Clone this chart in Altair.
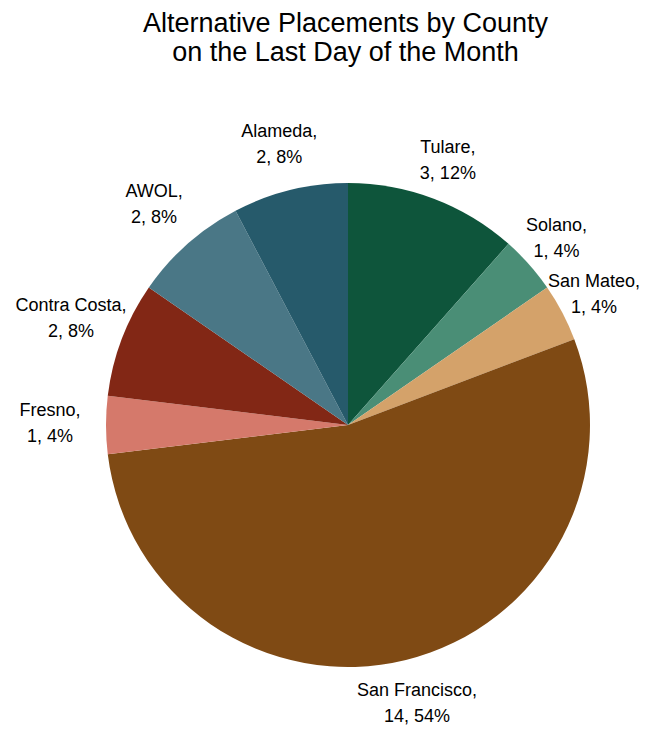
import altair as alt
import pandas as pd

counties = ["Tulare", "Solano", "San Mateo", "San Francisco", "Fresno",
            "Contra Costa", "AWOL", "Alameda"]
counts = [3, 1, 1, 14, 1, 2, 2, 2]
colors = ["#0e553b", "#4a8e76", "#d4a26a", "#7f4a14", "#d5796b",
          "#822715", "#4a7786", "#265a6b"]

total = sum(counts)
df = pd.DataFrame({
    "county": counties,
    "count": counts,
    "order": list(range(len(counties))),
})
df["label"] = [[f"{c},", f"{n}, {round(100 * n / total)}%"] for c, n in zip(counties, counts)]

cx, cy = 340, 342

pie = alt.Chart(df).mark_arc(outerRadius=242).encode(
    theta=alt.Theta("count:Q", stack=True),
    order=alt.Order("order:Q"),
    x=alt.value(cx), y=alt.value(cy),
    color=alt.Color("county:N", scale=alt.Scale(domain=counties, range=colors), legend=None),
)

labels = alt.Chart(df).transform_joinaggregate(
    tot="sum(count)"
).transform_window(
    cum="sum(count)", sort=[alt.SortField("order")]
).transform_calculate(
    mid="2*PI*(datum.cum - datum.count/2)/datum.tot"
).transform_calculate(
    r="288 - 10*sin(datum.mid) - 3*cos(datum.mid)"
).mark_text(fontSize=18, font="Liberation Sans",
            align="center", baseline="middle", lineHeight=26,
            dy=-14, color="black").encode(
    x=alt.value(cx), y=alt.value(cy),
    theta=alt.Theta("mid:Q", scale=None, stack=False),
    radius=alt.Radius("r:Q", scale=None),
    text="label",
)

chart = alt.layer(pie, labels).resolve_scale(theta="independent").properties(
    width=635, height=644,
    autosize=alt.AutoSizeParams(type="none"),
    padding={"top": 75, "left": 0, "right": 0, "bottom": 0},
    title=alt.TitleParams(
        ["Alternative Placements by County", "on the Last Day of the Month"],
        font="Liberation Sans", fontSize=27, fontWeight="normal", lineHeight=29,
        color="black", anchor="middle", dx=20, dy=-12,
    ),
).configure_view(stroke=None)

chart.save("out.html", embed_options={"renderer": "svg", "actions": False})
